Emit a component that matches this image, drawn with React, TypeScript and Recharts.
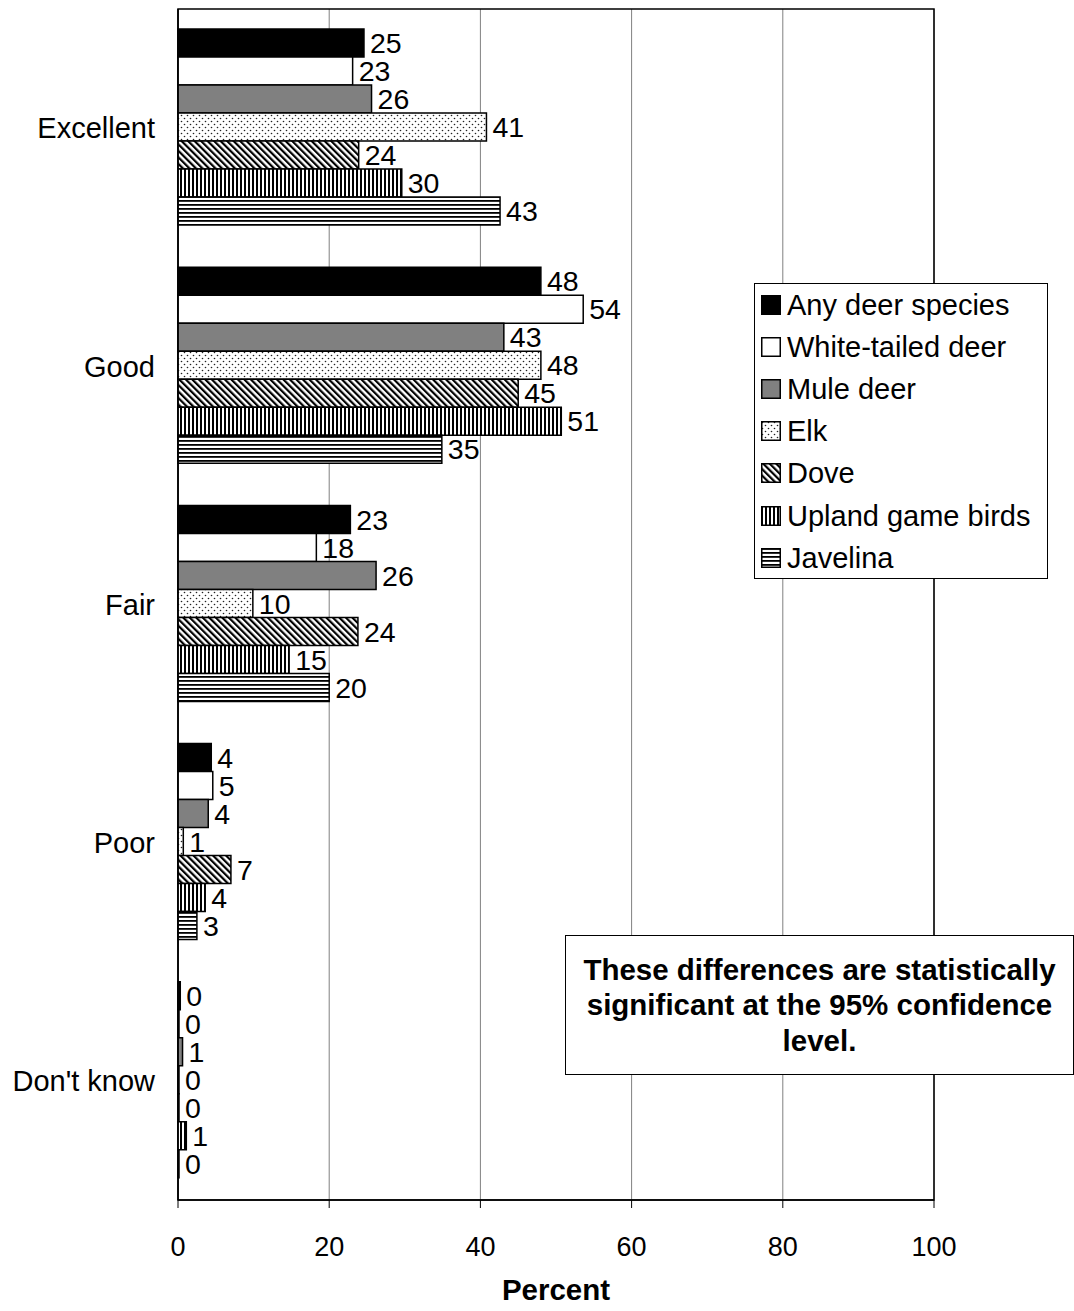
import React from 'react';
import { BarChart, Bar, XAxis, YAxis, CartesianGrid, LabelList, Legend, ReferenceArea } from 'recharts';

const categories = ['Excellent', 'Good', 'Fair', 'Poor', "Don't know"];
const anyDeer = [24.6, 48.0, 22.8, 4.4, 0.3];
const whiteTailed = [23.1, 53.6, 18.3, 4.6, 0];
const muleDeer = [25.6, 43.1, 26.2, 4.0, 0.6];
const elk = [40.8, 48.0, 9.9, 0.7, 0];
const dove = [23.9, 45.0, 23.8, 7.0, 0];
const upland = [29.6, 50.7, 14.7, 3.6, 1.1];
const javelina = [42.6, 34.9, 20.0, 2.5, 0];

const seriesNames = ['Any deer species', 'White-tailed deer', 'Mule deer', 'Elk', 'Dove', 'Upland game birds', 'Javelina'];
const seriesKeys = ['anyDeer', 'whiteTailed', 'muleDeer', 'elk', 'dove', 'upland', 'javelina'];
const seriesValues = [anyDeer, whiteTailed, muleDeer, elk, dove, upland, javelina];
const seriesFills = ['#000000', '#ffffff', '#808080', 'url(#pElk)', 'url(#pDove)', 'url(#pUpland)', 'url(#pJavelina)'];

const xTicks = [0, 20, 40, 60, 80, 100];
const bandEdges = [0, 1, 2, 3, 4, 5];
const noteText = ['These differences are statistically', 'significant at the 95% confidence', 'level.'];

const data = categories.map((c, i) => {
  const row: Record<string, string | number> = { category: c };
  seriesKeys.forEach((k, j) => {
    row[k] = seriesValues[j][i];
  });
  return row;
});

const FONT = '"Liberation Sans", Arial, Helvetica, sans-serif';

const Patterns = () => (
  <svg width={0} height={0} style={{ position: 'absolute', left: 0, top: 0 }}>
    <defs>
      <pattern id="pElk" patternUnits="userSpaceOnUse" width={6} height={6}>
        <rect x={0} y={0} width={6} height={6} fill="#fff" />
        <circle cx={1.5} cy={1.5} r={0.8} fill="#222" />
        <circle cx={4.5} cy={4.5} r={0.8} fill="#222" />
      </pattern>
      <pattern id="pDove" patternUnits="userSpaceOnUse" width={4.6} height={4.6} patternTransform="rotate(-45)">
        <rect x={0} y={0} width={4.6} height={4.6} fill="#fff" />
        <rect x={0} y={0} width={2.2} height={4.6} fill="#000" />
      </pattern>
      <pattern id="pUpland" patternUnits="userSpaceOnUse" width={4} height={4}>
        <rect x={0} y={0} width={4} height={4} fill="#fff" />
        <rect x={0} y={0} width={2} height={4} fill="#000" />
      </pattern>
      <pattern id="pJavelina" patternUnits="userSpaceOnUse" width={4} height={4}>
        <rect x={0} y={0} width={4} height={4} fill="#fff" />
        <rect x={0} y={0} width={4} height={1.8} fill="#000" />
      </pattern>
    </defs>
  </svg>
);

const LegendBox = () => (
  <div
    style={{
      width: 294,
      height: 296,
      boxSizing: 'border-box',
      border: '1.5px solid #000',
      background: '#fff',
      fontFamily: FONT,
      fontSize: 29,
      color: '#000',
    }}
  >
    {seriesNames.map((name, i) => (
      <div key={name} style={{ display: 'flex', alignItems: 'center', height: 42.1, paddingLeft: 6 }}>
        <svg width={20} height={20} style={{ flex: 'none' }}>
          <rect x={0.75} y={0.75} width={18.5} height={18.5} fill={seriesFills[i]} stroke="#000" strokeWidth={1.5} />
        </svg>
        <span style={{ marginLeft: 6, whiteSpace: 'nowrap', lineHeight: '42px' }}>{name}</span>
      </div>
    ))}
  </div>
);

export default function App() {
  return (
    <div style={{ position: 'absolute', left: 0, top: 0, width: 1074, height: 1311, background: '#fff' }}>
      <Patterns />
      <BarChart
        width={1074}
        height={1311}
        data={data}
        layout="vertical"
        margin={{ top: 9, right: 140, bottom: 0, left: 8 }}
        barCategoryGap={20}
        barGap={0}
        style={{ fontFamily: FONT }}
      >
        <CartesianGrid horizontal={false} stroke="#808080" strokeWidth={1} />
        <XAxis
          type="number"
          domain={[0, 100]}
          ticks={xTicks}
          tickSize={8}
          tickMargin={29}
          tick={{ fontSize: 27, fill: '#000' }}
          axisLine={{ stroke: '#000', strokeWidth: 1.5 }}
          tickLine={{ stroke: '#000' }}
          height={111}
          label={{ value: 'Percent', position: 'insideBottom', offset: 11, fontSize: 29.5, fontWeight: 'bold', fill: '#000' }}
        />
        <YAxis
          yAxisId="edges"
          type="number"
          domain={[0, 5]}
          ticks={bandEdges}
          allowDataOverflow
          tick={false}
          tickSize={8}
          width={0}
          axisLine={false}
          tickLine={{ stroke: '#000' }}
        />
        <YAxis
          type="category"
          dataKey="category"
          width={170}
          tickLine={false}
          tickSize={6}
          tickMargin={17}
          tick={{ fontSize: 29, fill: '#000' }}
          axisLine={{ stroke: '#000', strokeWidth: 1.5 }}
        />
        <ReferenceArea x1={0} x2={100} fill="none" stroke="#000" strokeWidth={1.5} ifOverflow="visible" />
        {seriesKeys.map((k, i) => (
          <Bar
            key={k}
            dataKey={k}
            name={seriesNames[i]}
            fill={seriesFills[i]}
            stroke="#000"
            strokeWidth={1.5}
            minPointSize={1}
            isAnimationActive={false}
          >
            <LabelList
              dataKey={k}
              position="right"
              offset={6}
              formatter={(v: number) => Math.round(Number(v))}
              fill="#000"
              stroke="none"
              fontSize={28.5}
            />
          </Bar>
        ))}
        <Legend
          layout="vertical"
          align="center"
          verticalAlign="middle"
          content={() => <LegendBox />}
          wrapperStyle={{ left: 754, top: 283, width: 294, height: 296 }}
        />
      </BarChart>
      <div
        style={{
          position: 'absolute',
          left: 565,
          top: 935,
          width: 509,
          height: 140,
          boxSizing: 'border-box',
          border: '1.5px solid #000',
          background: '#fff',
          fontFamily: FONT,
          fontSize: 29.5,
          fontWeight: 'bold',
          lineHeight: '35.5px',
          textAlign: 'center',
          color: '#000',
          display: 'flex',
          flexDirection: 'column',
          justifyContent: 'center',
        }}
      >
        {noteText.map((t) => (
          <div key={t} style={{ whiteSpace: 'nowrap' }}>{t}</div>
        ))}
      </div>
    </div>
  );
}
